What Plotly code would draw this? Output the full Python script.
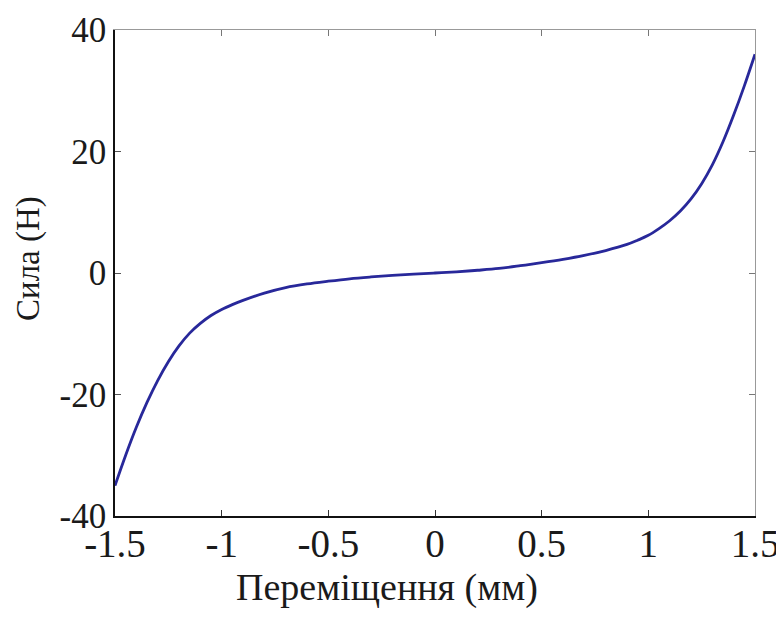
import plotly.graph_objects as go

# displacement (mm)
x_vals = [-1.5, -1.45, -1.4, -1.35, -1.3, -1.25, -1.2, -1.15, -1.1, -1.05, -1.0,
          -0.95, -0.9, -0.8, -0.7, -0.6, -0.5, -0.4, -0.3, -0.2, -0.1, 0.0,
          0.1, 0.2, 0.3, 0.4, 0.5, 0.6, 0.7, 0.8, 0.9, 0.95, 1.0,
          1.05, 1.1, 1.15, 1.2, 1.25, 1.3, 1.35, 1.4, 1.45, 1.5]
# force (N)
y_vals = [-35.0, -30.0, -25.4, -21.3, -17.7, -14.6, -12.0, -9.9, -8.3, -7.0, -6.0,
          -5.2, -4.5, -3.3, -2.4, -1.8, -1.35, -0.95, -0.65, -0.4, -0.2, 0.0,
          0.2, 0.45, 0.75, 1.2, 1.7, 2.25, 2.9, 3.7, 4.7, 5.4, 6.2,
          7.3, 8.6, 10.2, 12.2, 14.7, 17.8, 21.6, 26.0, 30.8, 36.0]

x_ticks = [-1.5, -1, -0.5, 0, 0.5, 1, 1.5]
x_tick_labels = ["-1.5", "-1", "-0.5", "0", "0.5", "1", "1.5"]
y_ticks = [-40, -20, 0, 20, 40]
y_tick_labels = ["-40", "-20", "0", "20", "40"]

x_title = "Переміщення (мм)"
y_title = "Сила (Н)"

font_family = "Liberation Serif, Times New Roman, serif"

fig = go.Figure()
fig.add_trace(go.Scatter(
    x=x_vals, y=y_vals, mode="lines",
    line=dict(color="#28289a", width=2.8, shape="spline"),
    showlegend=False, hoverinfo="skip",
))
# invisible trace to activate top/right axes
fig.add_trace(go.Scatter(x=[x_vals[0]], y=[y_vals[0]], xaxis="x2", yaxis="y2",
                         mode="markers", marker=dict(opacity=0), showlegend=False,
                         hoverinfo="skip"))

common = dict(showgrid=False, zeroline=False, ticks="inside", ticklen=6,
              tickwidth=1, automargin=False)
fig.update_layout(
    width=776, height=609,
    margin=dict(l=107, r=29, t=22, b=101, autoexpand=False),
    paper_bgcolor="white", plot_bgcolor="white",
    font=dict(family=font_family, size=30, color="#1a1a1a"),
    xaxis=dict(range=[-1.5, 1.5], tickvals=x_ticks, ticktext=x_tick_labels,
               showline=True, linecolor="#111", linewidth=1.5, tickcolor="#333",
               tickfont=dict(family=font_family, size=39, color="#1a1a1a"),
               ticklabelstandoff=-8, **common),
    yaxis=dict(range=[-40, 40], tickvals=y_ticks, ticktext=y_tick_labels,
               showline=True, linecolor="#111", linewidth=1.5, tickcolor="#555",
               tickfont=dict(family=font_family, size=35, color="#1a1a1a"),
               ticklabelstandoff=0, **common),
    xaxis2=dict(range=[-1.5, 1.5], tickvals=x_ticks, overlaying="x", side="top",
                showticklabels=False, showline=True, linecolor="#999",
                linewidth=1.2, tickcolor="#777", **common),
    yaxis2=dict(range=[-40, 40], tickvals=y_ticks, overlaying="y", side="right",
                showticklabels=False, showline=True, linecolor="#999",
                linewidth=1.2, tickcolor="#777", **common),
    annotations=[
        dict(text=x_title, xref="paper", yref="paper", x=0.425, y=-0.098,
             xanchor="center", yanchor="top", showarrow=False,
             font=dict(family=font_family, size=38, color="#1a1a1a")),
        dict(text=y_title, xref="paper", yref="paper", x=-0.135, y=0.53,
             xanchor="center", yanchor="middle", showarrow=False, textangle=-90,
             font=dict(family=font_family, size=33, color="#1a1a1a")),
    ],
)

fig.write_html("out.html")
